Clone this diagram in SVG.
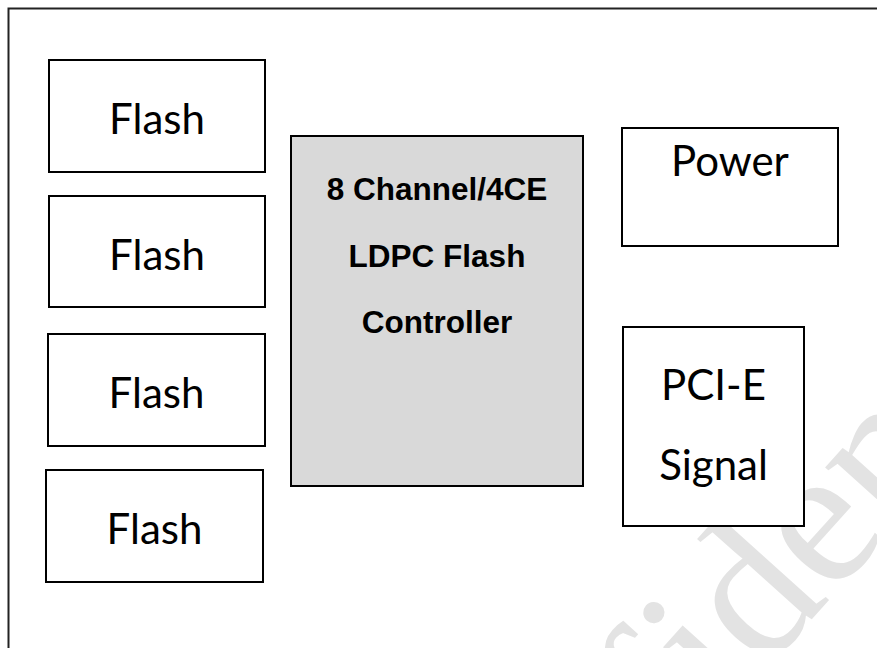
<svg xmlns="http://www.w3.org/2000/svg" width="877" height="648" viewBox="0 0 877 648">
<style>
.box{fill:#ffffff;stroke:#000000;stroke-width:2}
.ctrl{fill:#d9d9d9;stroke:#000000;stroke-width:2}
.lbl{font-family:Lato,"Open Sans","Noto Sans",sans-serif;font-size:42px;fill:#000000;text-anchor:middle}
.bold{font-family:"Liberation Sans",Arial,sans-serif;font-size:31.5px;font-weight:bold;fill:#000000;text-anchor:middle}
.wm{font-family:"Liberation Serif","Times New Roman",serif;font-size:200px;fill:#e3e3e3}
</style>
<rect x="0" y="0" width="877" height="648" fill="#ffffff"/>
<text class="wm" transform="translate(459,1011) rotate(-48)">Confidential</text>
<rect x="8.5" y="8.5" width="900" height="700" fill="none" stroke="#222222" stroke-width="2"/>
<g id="connectors"></g>
<g id="flash1"><rect class="box" x="49" y="60" width="216" height="112"/><text class="lbl" x="157" y="134">Flash</text></g>
<g id="flash2"><rect class="box" x="49" y="196" width="216" height="111"/><text class="lbl" x="157" y="270">Flash</text></g>
<g id="flash3"><rect class="box" x="48" y="334" width="217" height="112"/><text class="lbl" x="156.5" y="408">Flash</text></g>
<g id="flash4"><rect class="box" x="46" y="470" width="217" height="112"/><text class="lbl" x="154.5" y="544">Flash</text></g>
<g id="controller"><rect class="ctrl" x="291" y="136" width="292" height="350"/>
<text class="bold" x="437" y="200">8 Channel/4CE</text>
<text class="bold" x="437" y="267">LDPC Flash</text>
<text class="bold" x="437" y="333">Controller</text></g>
<g id="power"><rect class="box" x="622" y="128" width="216" height="118"/><text class="lbl" x="730" y="176">Power</text></g>
<g id="pcie"><rect class="box" x="623" y="327" width="181" height="199"/><text class="lbl" x="713.5" y="400">PCI-E</text><text class="lbl" x="713.5" y="480">Signal</text></g>
</svg>
